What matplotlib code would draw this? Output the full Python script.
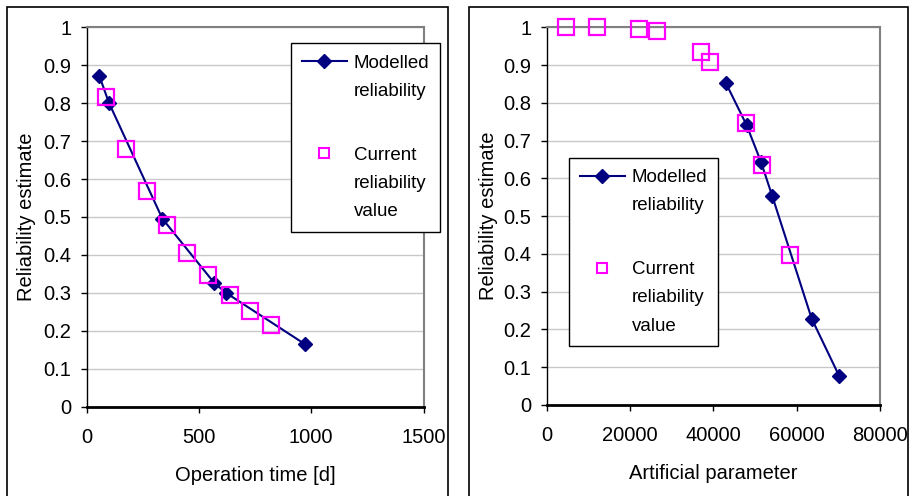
import numpy as np
import matplotlib.pyplot as plt
from matplotlib.lines import Line2D
from matplotlib.patches import Rectangle
from matplotlib.transforms import blended_transform_factory

plt.rcParams['font.family'] = ['Liberation Sans', 'DejaVu Sans']

# left chart: reliability vs operation time
time_model = [56, 99, 337, 567, 619, 973]
rel_model_time = [0.8725, 0.801, 0.4956, 0.327, 0.3006, 0.1644]
time_current = [86, 176, 267, 356, 448, 539, 638, 728, 819]
rel_current_time = [0.817, 0.679, 0.5685, 0.479, 0.404, 0.346, 0.2935, 0.2514, 0.2145]

# right chart: reliability vs artificial parameter
par_model = [43040, 48000, 51440, 54160, 63600, 70240]
rel_model_par = [0.8517, 0.7405, 0.6434, 0.5525, 0.2286, 0.0759]
par_current = [4560, 12160, 22240, 26400, 37040, 39280, 47760, 51680, 58400]
rel_current_par = [1.0, 1.0, 0.996, 0.991, 0.934, 0.907, 0.7475, 0.635, 0.397]

yticks = np.arange(0, 1.01, 0.1)
ytick_labels = ['0', '0.1', '0.2', '0.3', '0.4', '0.5', '0.6', '0.7', '0.8', '0.9', '1']

W, H = 910, 496
fig = plt.figure(figsize=(W / 100, H / 100), dpi=100)
fs = 14.5

navy = '#000080'
magenta = '#ff00ff'


def fig_box(x0, y0, x1, y1):
    # pixel box (top-left origin) -> figure fraction rect
    return [x0 / W, 1 - y1 / H, (x1 - x0) / W, (y1 - y0) / H]


def style_axes(ax, xmax, xstep, xlabel, ylab_x):
    ax.set_xlim(0, xmax)
    ax.set_ylim(0, 1)
    ax.set_xticks(np.arange(0, xmax + 1, xstep))
    ax.set_yticks(yticks)
    ax.set_yticklabels(ytick_labels)
    ax.grid(axis='y', color='#c8c8c8', lw=1.0)
    ax.set_axisbelow(True)
    for s in ['top', 'right']:
        ax.spines[s].set_color('#808080')
        ax.spines[s].set_linewidth(1.5)
    ax.spines['left'].set_linewidth(1.0)
    ax.spines['bottom'].set_linewidth(2.0)
    ax.tick_params(axis='y', direction='out', length=4, width=1, pad=7, labelsize=fs)
    ax.tick_params(axis='x', direction='out', length=4, width=1, pad=11, labelsize=fs)
    ax.set_xlabel(xlabel, fontsize=fs, labelpad=14)
    ax.set_ylabel('Reliability estimate', fontsize=fs, va='center')
    ax.yaxis.set_label_coords(ylab_x / W, 0.5,
                              transform=blended_transform_factory(fig.transFigure, ax.transAxes))


def add_legend(ax, x0, y0):
    h_model = Line2D([], [], color=navy, lw=1.5, marker='D', markersize=7,
                     markerfacecolor=navy, markeredgecolor=navy)
    h_cur = Line2D([], [], ls='none', marker='s', markersize=7.5,
                   markerfacecolor='none', markeredgecolor=magenta, markeredgewidth=1.5)
    blank = Line2D([], [], ls='none')
    handles = [h_model, blank, blank, h_cur, blank, blank]
    labels = ['Modelled', 'reliability', ' ', 'Current', 'reliability', 'value']
    leg = ax.legend(handles, labels, loc='upper left',
                    bbox_to_anchor=(x0 / W, 1 - y0 / H), bbox_transform=fig.transFigure,
                    borderaxespad=0, fontsize=13.5, frameon=True, fancybox=False,
                    edgecolor='black', framealpha=1, labelspacing=0.6,
                    handlelength=2.4, handletextpad=0.35, borderpad=0.6)
    leg.get_frame().set_linewidth(1.0)
    leg.get_texts()[2].set_fontsize(19)
    return leg


# left panel
ax1 = fig.add_axes(fig_box(86.7, 27.3, 423.5, 406.7))
ax1.plot(time_model, rel_model_time, color=navy, lw=1.5, marker='D', markersize=7.5,
         markerfacecolor=navy, markeredgecolor=navy, zorder=3)
ax1.plot(time_current, rel_current_time, ls='none', marker='s', markersize=12,
         markerfacecolor='none', markeredgecolor=magenta, markeredgewidth=1.6, zorder=4)
style_axes(ax1, 1500, 500, 'Operation time [d]', 27)
add_legend(ax1, 290.7, 43.3)

# right panel
ax2 = fig.add_axes(fig_box(546.7, 27.3, 880, 405))
ax2.plot(par_model, rel_model_par, color=navy, lw=1.5, marker='D', markersize=7.5,
         markerfacecolor=navy, markeredgecolor=navy, zorder=3)
ax2.plot(par_current, rel_current_par, ls='none', marker='s', markersize=12,
         markerfacecolor='none', markeredgecolor=magenta, markeredgewidth=1.6,
         zorder=4, clip_on=False)
style_axes(ax2, 80000, 20000, 'Artificial parameter', 488)
add_legend(ax2, 568.7, 157.7)

# chart-area frames
for x0, x1 in [(7, 448), (469, 908)]:
    fig.patches.append(Rectangle((x0 / W, -0.1), (x1 - x0) / W, 1.1 - 7 / H,
                                 transform=fig.transFigure, fill=False,
                                 edgecolor='black', lw=1.2, zorder=10))

fig.savefig('out.png', dpi=100)
